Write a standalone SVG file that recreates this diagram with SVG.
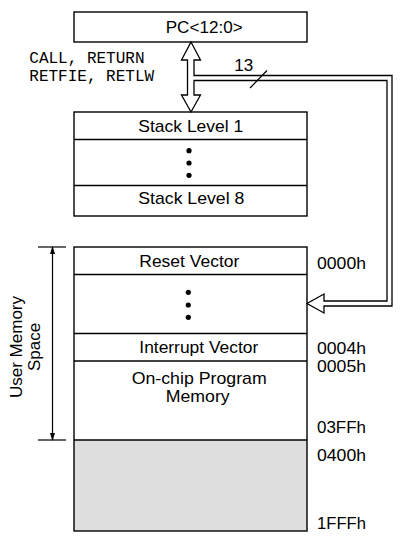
<svg xmlns="http://www.w3.org/2000/svg" width="404" height="537" viewBox="0 0 404 537">
<style>
.box{fill:#fff;stroke:#000;stroke-width:1.4}
.div{stroke:#000;stroke-width:1.3;fill:none}
.t{font-family:"Liberation Sans",Arial,sans-serif;font-size:17px;fill:#000}
.m{font-family:"Liberation Mono","Courier New",monospace;font-size:16px;fill:#000}
.bus{fill:#fff;stroke:#000;stroke-width:1.3;stroke-linejoin:miter}
.ln{stroke:#000;stroke-width:1.2;fill:none}
</style>
<defs>
<marker id="ah" viewBox="0 0 8 8" refX="7" refY="4" markerWidth="8" markerHeight="8" markerUnits="userSpaceOnUse" orient="auto-start-reverse">
<path d="M0,1.5 L8,4 L0,6.5 Z" fill="#000"/>
</marker>
</defs>
<rect width="404" height="537" fill="#fff"/>

<g id="pc">
<rect class="box" x="74" y="12" width="233" height="30"/>
<text class="t" x="165.7" y="33" textLength="77" lengthAdjust="spacingAndGlyphs">PC&lt;12:0&gt;</text>
</g>

<g id="stack">
<rect class="box" x="74" y="112" width="233" height="104"/>
<line class="div" x1="74" y1="139.5" x2="307" y2="139.5"/>
<line class="div" x1="74" y1="185.5" x2="307" y2="185.5"/>
<text class="t" x="138.3" y="131.5" textLength="105" lengthAdjust="spacingAndGlyphs">Stack Level 1</text>
<circle cx="189" cy="150.7" r="2.6"/>
<circle cx="189" cy="163" r="2.6"/>
<circle cx="189" cy="175.3" r="2.6"/>
<text class="t" x="138.3" y="204" textLength="106" lengthAdjust="spacingAndGlyphs">Stack Level 8</text>
</g>

<g id="memory">
<rect x="74" y="440" width="233" height="91" fill="#dedede"/>
<rect x="74" y="247" width="233" height="284" fill="none" stroke="#000" stroke-width="1.4"/>
<line class="div" x1="74" y1="274.5" x2="307" y2="274.5"/>
<line class="div" x1="74" y1="333.5" x2="307" y2="333.5"/>
<line class="div" x1="74" y1="361" x2="307" y2="361"/>
<line class="div" x1="74" y1="440" x2="307" y2="440"/>
<text class="t" x="139.3" y="266.5" textLength="100" lengthAdjust="spacingAndGlyphs">Reset Vector</text>
<circle cx="188.3" cy="292.3" r="2.6"/>
<circle cx="188.3" cy="305" r="2.6"/>
<circle cx="188.3" cy="317.3" r="2.6"/>
<text class="t" x="139.3" y="352.5" textLength="119" lengthAdjust="spacingAndGlyphs">Interrupt Vector</text>
<text class="t" x="131.7" y="384" textLength="135" lengthAdjust="spacingAndGlyphs">On-chip Program</text>
<text class="t" x="165.7" y="402" textLength="64" lengthAdjust="spacingAndGlyphs">Memory</text>
</g>

<g id="addresses">
<text class="t" x="317" y="268.5" textLength="49" lengthAdjust="spacingAndGlyphs">0000h</text>
<text class="t" x="317" y="354" textLength="49" lengthAdjust="spacingAndGlyphs">0004h</text>
<text class="t" x="317" y="372.3" textLength="49" lengthAdjust="spacingAndGlyphs">0005h</text>
<text class="t" x="317" y="433.3" textLength="49" lengthAdjust="spacingAndGlyphs">03FFh</text>
<text class="t" x="317" y="460.5" textLength="49" lengthAdjust="spacingAndGlyphs">0400h</text>
<text class="t" x="317" y="529" textLength="49" lengthAdjust="spacingAndGlyphs">1FFFh</text>
</g>

<g id="user-space">
<line class="ln" x1="38" y1="247" x2="66" y2="247"/>
<line class="ln" x1="38" y1="440" x2="66" y2="440"/>
<line class="ln" x1="52.5" y1="247" x2="52.5" y2="440" marker-start="url(#ah)" marker-end="url(#ah)"/>
<text class="t" transform="translate(22.3,347) rotate(-90)" text-anchor="middle">User Memory</text>
<text class="t" transform="translate(39.5,347) rotate(-90)" text-anchor="middle">Space</text>
</g>

<g id="instr-label">
<text class="m" x="29.3" y="63.3">CALL, RETURN</text>
<text class="m" x="29.3" y="80.7">RETFIE, RETLW</text>
</g>

<g id="connectors">
<path class="bus" d="M191,42 L200.5,60 L194,60 L194,75.5 L392,75.5 L392,306 L324,306 L324,313 L307,303.5 L324,294 L324,301 L387,301 L387,80.5 L194,80.5 L194,95 L200.5,95 L191,112 L181.5,95 L187.5,95 L187.5,60 L181.5,60 Z"/>
<line class="ln" x1="250" y1="88" x2="267" y2="70.5"/>
<text class="t" x="234.3" y="71.3" font-size="16">13</text>
</g>
</svg>
